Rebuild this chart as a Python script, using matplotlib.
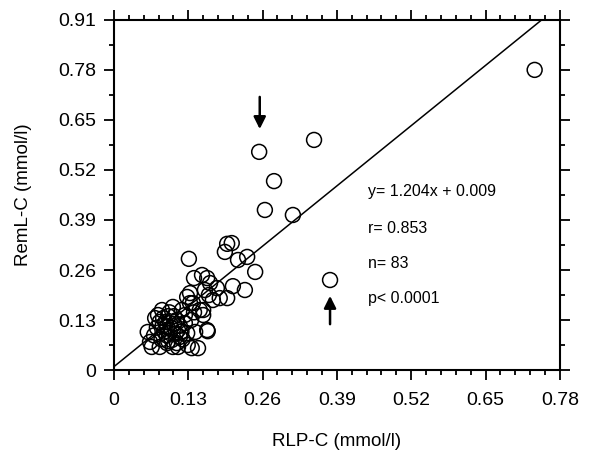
import matplotlib
matplotlib.use("Agg")
import matplotlib.pyplot as plt
from matplotlib.ticker import MultipleLocator
import numpy as np

plt.rcParams['font.family'] = ['Liberation Sans', 'DejaVu Sans']

# RLP-C vs RemL-C (mmol/l)
rlp_c = [0.736, 0.254, 0.350, 0.280, 0.264, 0.313, 0.378,
         0.131, 0.198, 0.206, 0.194, 0.217, 0.233, 0.247, 0.208, 0.229, 0.154,
         0.163, 0.140, 0.168, 0.180, 0.185, 0.173, 0.198, 0.133, 0.138, 0.156,
         0.164, 0.156, 0.159, 0.166,
         0.059, 0.063, 0.066, 0.077, 0.084, 0.086, 0.093, 0.098, 0.101, 0.103,
         0.110, 0.112, 0.115, 0.119, 0.124, 0.128, 0.129, 0.136, 0.142, 0.147,
         0.133, 0.128, 0.163, 0.150, 0.112, 0.098, 0.093, 0.080, 0.124, 0.103,
         0.085, 0.090, 0.095, 0.100, 0.105, 0.108, 0.092, 0.088, 0.080, 0.075,
         0.070, 0.115, 0.118, 0.105, 0.097, 0.083, 0.120, 0.135, 0.140, 0.072,
         0.110, 0.095]
reml_c = [0.780, 0.567, 0.598, 0.491, 0.416, 0.403, 0.234,
          0.289, 0.328, 0.330, 0.307, 0.286, 0.294, 0.255, 0.218, 0.208, 0.247,
          0.239, 0.239, 0.226, 0.213, 0.187, 0.182, 0.187, 0.200, 0.174, 0.156,
          0.101, 0.143, 0.208, 0.195,
          0.099, 0.073, 0.060, 0.143, 0.156, 0.135, 0.112, 0.096, 0.078, 0.060,
          0.130, 0.104, 0.086, 0.156, 0.122, 0.096, 0.065, 0.057, 0.099, 0.057,
          0.174, 0.190, 0.104, 0.156, 0.060, 0.122, 0.070, 0.060, 0.143, 0.164,
          0.115, 0.125, 0.140, 0.110, 0.120, 0.095, 0.090, 0.100, 0.125, 0.110,
          0.090, 0.115, 0.100, 0.140, 0.150, 0.080, 0.080, 0.130, 0.150, 0.135,
          0.070, 0.075]

slope = 1.204
intercept = 0.009
stats_text = ["y= 1.204x + 0.009", "r= 0.853", "n= 83", "p< 0.0001"]
ticks = [0, 0.13, 0.26, 0.39, 0.52, 0.65, 0.78, 0.91]

fig = plt.figure(figsize=(6, 4.62), dpi=100)
ax = fig.add_axes([0.19, 0.199, 0.743, 0.758])

ax.scatter(rlp_c, reml_c, s=115, facecolors='none', edgecolors='black', linewidths=1.1, zorder=3)

# regression line, clipped at the top of the plot
x_end = (0.91 - intercept) / slope
xl = np.array([0, x_end])
ax.plot(xl, slope * xl + intercept, color='black', lw=1.1)

# arrows marking the two discordant samples
ax.annotate('', xy=(0.255, 0.619), xytext=(0.255, 0.717),
            arrowprops=dict(arrowstyle='-|>', color='black', lw=1.8, mutation_scale=18))
ax.annotate('', xy=(0.378, 0.200), xytext=(0.378, 0.112),
            arrowprops=dict(arrowstyle='-|>', color='black', lw=1.8, mutation_scale=18))

for txt, yy in zip(stats_text, [0.463, 0.367, 0.278, 0.187]):
    ax.text(0.444, yy, txt, fontsize=11.5, va='center', ha='left')

ax.set_xlim(0, 0.78)
ax.set_ylim(0, 0.91)
ax.set_xticks(ticks[:-1])
ax.set_yticks(ticks)
ax.set_xticklabels(['0' if t == 0 else f'{t:.2f}' for t in ticks[:-1]])
ax.set_yticklabels(['0' if t == 0 else f'{t:.2f}' for t in ticks])
ax.xaxis.set_minor_locator(MultipleLocator(0.026))
ax.yaxis.set_minor_locator(MultipleLocator(0.065))

ax.tick_params(which='both', direction='out', top=True, right=True, width=1.3, labelsize=14)
ax.tick_params(which='major', length=7)
ax.tick_params(which='minor', length=3.5)
ax.tick_params(axis='x', which='major', pad=9)
ax.tick_params(axis='y', which='major', pad=6)
for sp in ax.spines.values():
    sp.set_linewidth(1.5)

ax.set_xlabel('RLP-C (mmol/l)', fontsize=13.5, labelpad=17)
ax.set_ylabel('RemL-C (mmol/l)', fontsize=13.5, labelpad=19)

plt.savefig('out.png', dpi=100)
